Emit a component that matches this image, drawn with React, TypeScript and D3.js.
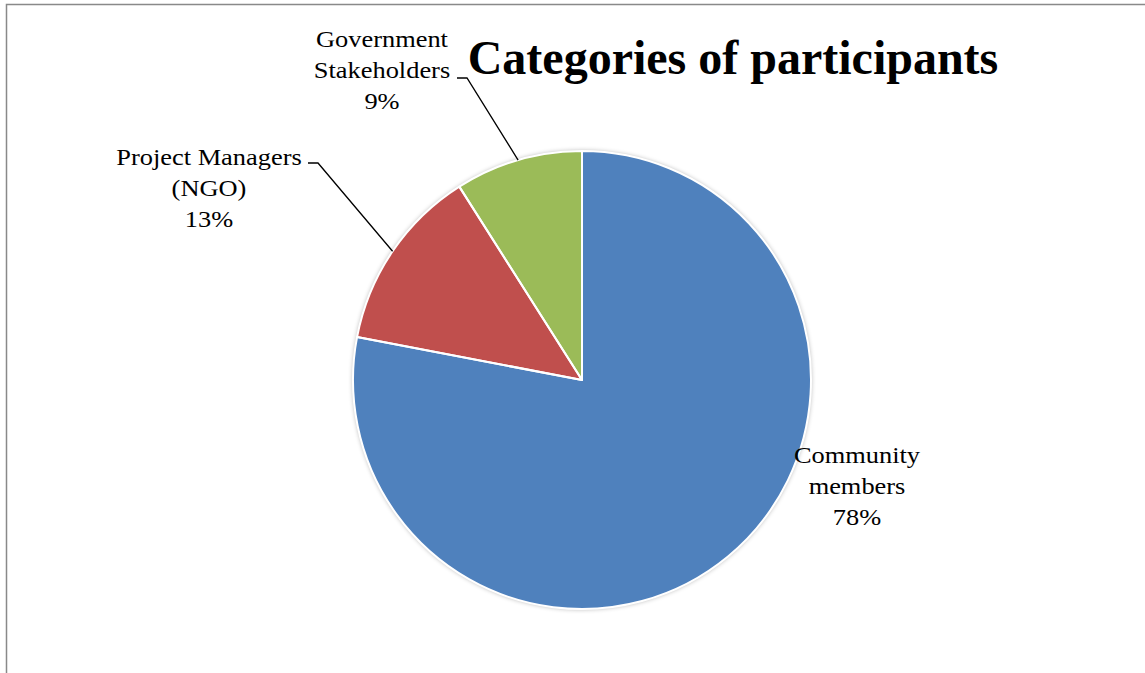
import React from "react";
import * as d3 from "d3";

const categories = ["Community members", "Project Managers (NGO)", "Government Stakeholders"];
const values = [78, 13, 9];
const labelLines = [
  ["Community", "members", "78%"],
  ["Project Managers", "(NGO)", "13%"],
  ["Government", "Stakeholders", "9%"],
];
const colors = ["#4F81BD", "#C0504D", "#9BBB59"];
const title = "Categories of participants";

const W = 1145;
const H = 673;
const cx = 582;
const cy = 380;
const R = 229;

// label layout: center x, first baseline y, leader start (x, y) or null
const labelLayout = [
  { x: 857, y: 463, leader: null as null | [number, number] },
  { x: 209, y: 165, leader: [308, 163] as [number, number] },
  { x: 382, y: 47, leader: [457, 78] as [number, number] },
];

export default function App() {
  const data = categories.map((c, i) => ({ name: c, value: values[i] }));
  const pie = d3
    .pie<{ name: string; value: number }>()
    .sort(null)
    .value((d) => d.value)
    .startAngle(0)
    .endAngle(2 * Math.PI);
  const arcs = pie(data);
  const arc = d3
    .arc<d3.PieArcDatum<{ name: string; value: number }>>()
    .innerRadius(0)
    .outerRadius(R);

  const lineH = 31;
  const sx = 1.1;

  return (
    <div style={{ position: "absolute", left: 0, top: 0 }}>
      <svg width={W} height={H} style={{ display: "block", background: "#fff" }}>
        <defs>
          <filter id="glow" x="-20%" y="-20%" width="140%" height="140%">
            <feGaussianBlur in="SourceAlpha" stdDeviation="2.5" />
            <feComponentTransfer>
              <feFuncA type="linear" slope="0.35" />
            </feComponentTransfer>
            <feMerge>
              <feMergeNode />
              <feMergeNode in="SourceGraphic" />
            </feMerge>
          </filter>
        </defs>
        <rect x={0} y={0} width={W} height={H} fill="#fff" />
        <path d={`M6.5,${H} L6.5,4.5 L${W},4.5`} fill="none" stroke="#898989" strokeWidth={1.5} />
        <g transform={`translate(${cx},${cy})`}>
          <g filter="url(#glow)">
            {arcs.map((a, i) => (
              <path key={i} d={arc(a) || ""} fill={colors[i]} />
            ))}
          </g>
          {arcs.map((a, i) => (
            <path key={"s" + i} d={arc(a) || ""} fill="none" stroke="#fff" strokeWidth={2} strokeLinejoin="round" />
          ))}
        </g>
        {arcs.map((a, i) => {
          const lay = labelLayout[i];
          if (!lay.leader) return null;
          const mid = (a.startAngle + a.endAngle) / 2;
          const ex = cx + Math.sin(mid) * R;
          const ey = cy - Math.cos(mid) * R;
          const [sxp, syp] = lay.leader;
          return (
            <polyline
              key={"l" + i}
              points={`${sxp},${syp} ${sxp + 10},${syp} ${ex},${ey}`}
              fill="none"
              stroke="#000"
              strokeWidth={1.3}
            />
          );
        })}
        {labelLines.map((lines, i) => {
          const lay = labelLayout[i];
          return (
            <g key={"t" + i} transform={`translate(${lay.x},${lay.y}) scale(${sx},1)`}>
              {lines.map((ln, j) => (
                <text
                  key={j}
                  x={0}
                  y={j * lineH}
                  textAnchor="middle"
                  fontFamily="'Liberation Serif', 'Times New Roman', serif"
                  fontSize={24}
                  fill="#000"
                >
                  {ln}
                </text>
              ))}
            </g>
          );
        })}
        <text
          x={733}
          y={74}
          textAnchor="middle"
          fontFamily="'Liberation Serif', 'Times New Roman', serif"
          fontWeight="bold"
          fontSize={48}
          fill="#000"
        >
          {title}
        </text>
      </svg>
    </div>
  );
}
